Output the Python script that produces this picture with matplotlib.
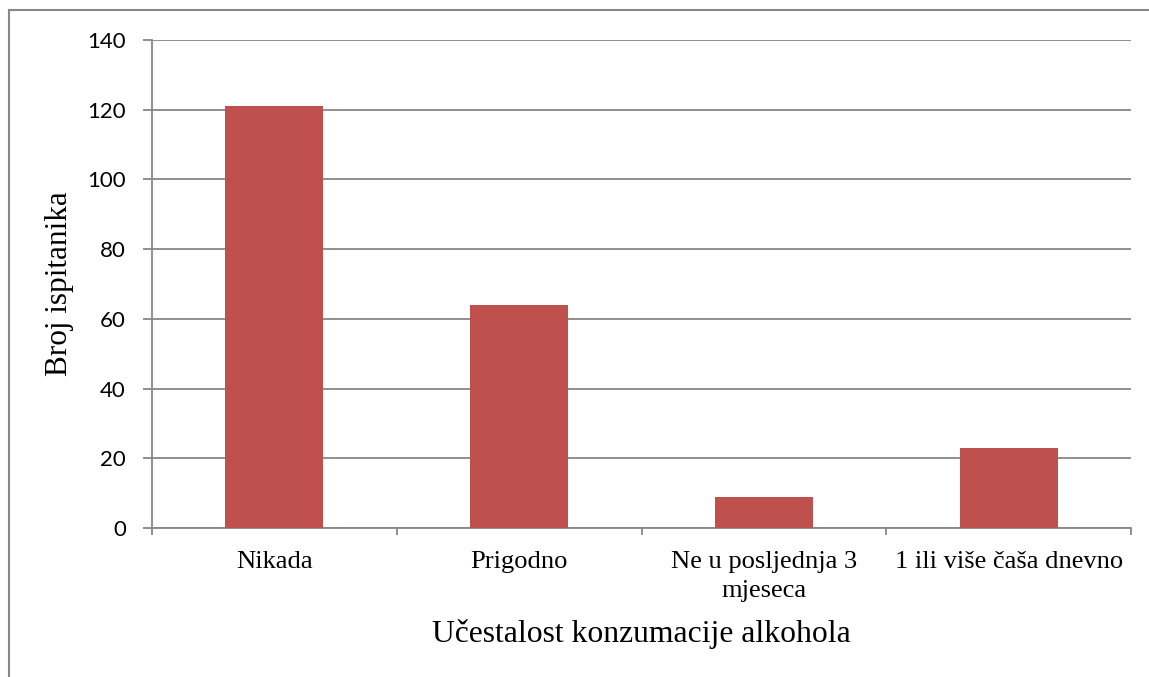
import matplotlib
matplotlib.use("Agg")
import matplotlib.pyplot as plt
from matplotlib.lines import Line2D
from matplotlib.font_manager import FontProperties
import numpy as np

categories = ["Nikada", "Prigodno", "Ne u posljednja 3\nmjeseca", "1 ili više čaša dnevno"]
values = [121, 64, 9, 23]
yticks = [0, 20, 40, 60, 80, 100, 120, 140]
xlabel = "Učestalost konzumacije alkohola"
ylabel = "Broj ispitanika"

W, H = 1149, 677
DPI = 100
fig = plt.figure(figsize=(W / DPI, H / DPI), dpi=DPI)
renderer = fig.canvas.get_renderer()

SERIF = ["Liberation Serif"]
SANS = ["Lato", "DejaVu Sans"]


def metrics(s, fam, size):
    fp = FontProperties(family=fam, size=size)
    return renderer.get_text_width_height_descent(s, fp, ismath=False)


def fit(s, fam, target_px, base=20.0):
    w, _, _ = metrics(s, fam, base)
    return base * target_px / w


px2pt = 72.0 / DPI

# plot area (pixels in the reference)
L, R, T, B = 152, 1131, 40, 528
ax = fig.add_axes([L / W, 1 - B / H, (R - L) / W, (B - T) / H])

grey = "#878787"
x = np.arange(len(categories))
ax.bar(x, values, width=0.4, color="#C0504D", zorder=3)

ax.set_xlim(-0.5, len(categories) - 0.5)
ax.set_ylim(0, 140)

# y ticks
ysize = fit("140", SANS, 38.7)
ax.set_yticks(yticks)
ax.set_yticklabels([str(v) for v in yticks], fontsize=ysize, family=SANS)
ax.yaxis.grid(True, color=grey, linewidth=1.3, zorder=0)
ax.set_axisbelow(True)
ax.tick_params(axis="y", length=9 * px2pt, color=grey, width=1.3, pad=17 * px2pt)

# x ticks
xsize = fit("Prigodno", SERIF, 97)
_, lp_h, lp_d = metrics("lp", SERIF, xsize)
line_step = 28.4
ls = (line_step - lp_d) / (lp_h - lp_d)
top_of_text = 568.3 - (lp_h - lp_d)
ax.set_xticks(x)
ax.set_xticklabels(categories, fontsize=xsize, family=SERIF, linespacing=ls)
ax.tick_params(axis="x", which="major", length=0, pad=(top_of_text - B) * px2pt)
ax.set_xticks(np.arange(-0.5, len(categories)), minor=True)
ax.tick_params(axis="x", which="minor", length=7 * px2pt, color=grey, width=1.3)

for s in ["top", "right"]:
    ax.spines[s].set_visible(False)
for s in ["left", "bottom"]:
    ax.spines[s].set_color(grey)
    ax.spines[s].set_linewidth(1.3)

# axis titles
xl_size = fit(xlabel, SERIF, 418)
ax.set_xlabel(xlabel, fontsize=xl_size, family=SERIF, va="baseline")
ax.xaxis.set_label_coords(0.5, (B - 641.7) / (B - T))

yl_size = fit(ylabel, SERIF, 185)
ax.set_ylabel(ylabel, fontsize=yl_size, family=SERIF, va="center")
ax.yaxis.set_label_coords((60 - L) / (R - L), 0.5)

# outer frame (top and left only, as in the cropped reference)
fig.add_artist(Line2D([8.5 / W, 8.5 / W], [0, 1 - 10 / H], transform=fig.transFigure, color=grey, linewidth=1.5))
fig.add_artist(Line2D([8.5 / W, 1.0], [1 - 10 / H, 1 - 10 / H], transform=fig.transFigure, color=grey, linewidth=1.5))

fig.savefig("out.png", dpi=DPI, facecolor="white")
